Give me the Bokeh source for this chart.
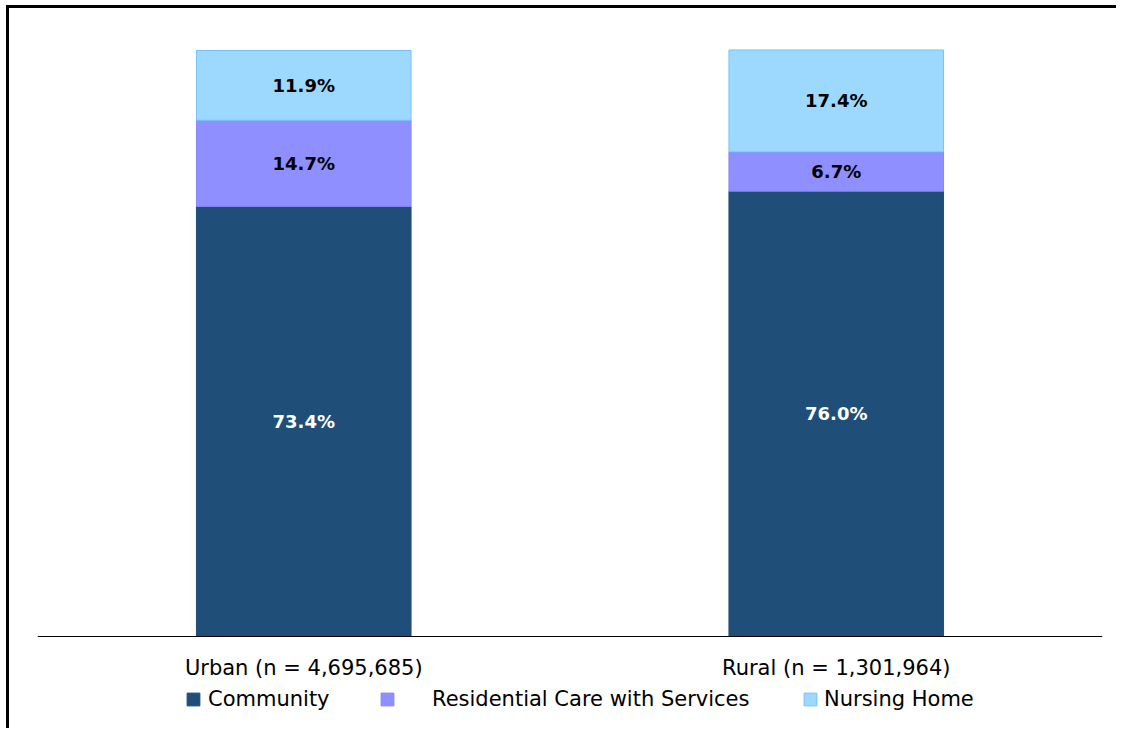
from bokeh.plotting import figure
from bokeh.models import FactorRange, Range1d, Legend, LegendItem, ColumnDataSource
from bokeh.core.properties import value
from bokeh.embed import file_html
from bokeh.resources import INLINE

categories = ["Urban (n = 4,695,685)", "Rural (n = 1,301,964)"]
series = ["Community", "Residential Care with Services", "Nursing Home"]
community = [73.4, 76.0]
residential = [14.7, 6.7]
nursing = [11.9, 17.4]

fill_colors = ["#1F4E79", "#8F8FFF", "#9DD9FF"]
line_colors = ["#1F4E79", "#8686F8", "#74C4FA"]
label_colors = ["white", "black", "black"]

FONT = "DejaVu Sans"

p = figure(x_range=FactorRange(factors=categories), y_range=Range1d(-15.87, 102.05),
           width=1110, height=723, output_backend="svg", toolbar_location=None,
           min_border_left=28, min_border_right=17, min_border_top=30, min_border_bottom=2)
p.styles = {"border-left": "3px solid black", "border-top": "3px solid black",
            "margin-left": "6px", "margin-top": "5px"}

data = {"cat": categories, "Community": community,
        "Residential Care with Services": residential, "Nursing Home": nursing}
src = ColumnDataSource(data)
rends = p.vbar_stack(series, x="cat", width=0.403, source=src,
                     fill_color=fill_colors, line_color=line_colors, line_width=1)

# segment labels
xs, ys, texts, cols = [], [], [], []
for i, cat in enumerate(categories):
    bottom = 0.0
    for j, vals in enumerate([community, residential, nursing]):
        v = vals[i]
        xs.append(cat)
        ys.append(bottom + v / 2)
        texts.append(f"{v:.1f}%")
        cols.append(label_colors[j])
        bottom += v
p.text(x=xs, y=ys, text=texts, text_color=cols, text_align="center",
       text_baseline="middle", text_font=value(FONT), text_font_style="bold",
       text_font_size="18px")

p.yaxis.visible = False
p.xgrid.visible = False
p.ygrid.visible = False
p.outline_line_color = None
ax = p.xaxis[0]
ax.fixed_location = 0
ax.axis_line_color = "black"
ax.axis_line_width = 1
ax.major_tick_line_color = None
ax.major_tick_in = 0
ax.major_tick_out = 0
ax.minor_tick_line_color = None
ax.major_label_text_font = FONT
ax.major_label_text_font_size = "21px"
ax.major_label_text_color = "black"
ax.major_label_standoff = 19

positions = [(148, 7), (342, 37), (765, 6)]
for r, name, (lx, standoff) in zip(rends, series, positions):
    lg = Legend(items=[LegendItem(label=name, renderers=[r])], location=(lx, 18),
                orientation="horizontal", padding=0, margin=0, spacing=0,
                glyph_width=16, glyph_height=16, label_height=16,
                label_standoff=standoff, label_text_font=FONT,
                label_text_font_size="21px", label_text_color="black",
                border_line_alpha=0, background_fill_alpha=0)
    p.add_layout(lg, "center")

open("out.html", "w").write(file_html(p, INLINE))
